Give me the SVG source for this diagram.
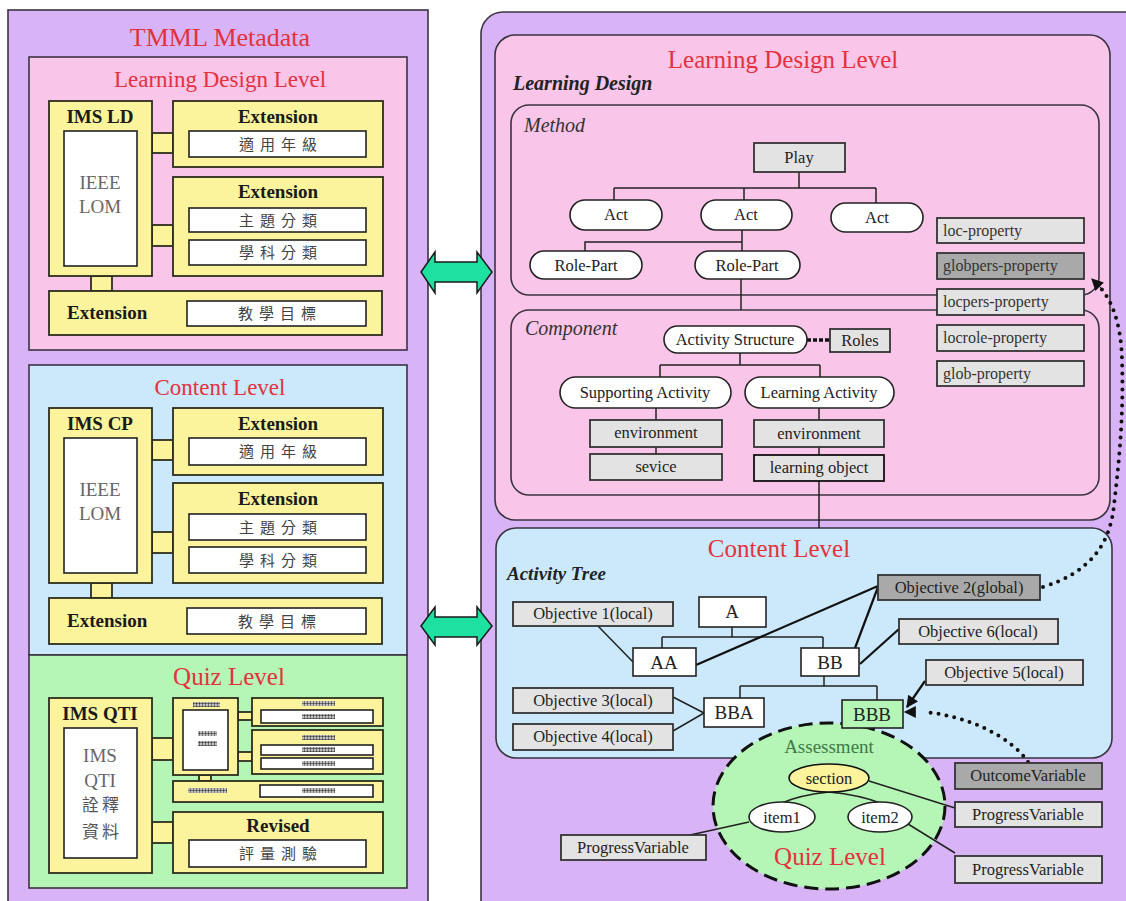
<svg xmlns="http://www.w3.org/2000/svg" width="1126" height="901" viewBox="0 0 1126 901">
  <defs>
    <style>
      .pur { fill:#d8b4f6; stroke:#3a3340; stroke-width:1.6; }
      .pink { fill:#f9c5e8; stroke:#3a3340; stroke-width:1.6; }
      .blue { fill:#cbe9fb; stroke:#3a3340; stroke-width:1.6; }
      .green { fill:#b5f5b5; stroke:#3a3340; stroke-width:1.6; }
      .yel { fill:#fbf49c; stroke:#2d2d1d; stroke-width:1.8; }
      .wht { fill:#ffffff; stroke:#222; stroke-width:1.6; }
      .gray { fill:#e3e3e3; stroke:#333; stroke-width:1.8; }
      .dgray { fill:#a9a9a9; stroke:#333; stroke-width:1.8; }
      .hatch { fill:url(#dots); }
      .ttl { font-family:"Liberation Serif",serif; fill:#e2323e; text-anchor:middle; }
      .lbl { font-family:"Liberation Serif",serif; font-size:16.5px; fill:#222; text-anchor:middle; }
      .glbl { font-family:"Liberation Serif",serif; font-size:16px; fill:#333; }
      .bld { font-family:"Liberation Serif",serif; font-size:19px; font-weight:bold; fill:#1a1a1a; text-anchor:middle; }
      .lom { font-family:"Liberation Serif",serif; font-size:19px; fill:#666; text-anchor:middle; }
      .cjk { font-family:"Liberation Serif","Noto Sans CJK TC",serif; font-size:15px; fill:#444; letter-spacing:6px; text-anchor:middle; }
      .ital { font-family:"Liberation Serif",serif; font-style:italic; font-size:20px; fill:#333; }
      .bi { font-family:"Liberation Serif",serif; font-style:italic; font-weight:bold; fill:#222; }
      .ln { fill:none; stroke:#222; stroke-width:1.5; }
      .thk { fill:none; stroke:#111; stroke-width:2.2; }
      .dot { fill:none; stroke:#111; stroke-width:4; stroke-linecap:round; stroke-dasharray:0 8; }
      .arrow2 { fill:#1ee0a0; stroke:#1a1a1a; stroke-width:1.5; stroke-linejoin:miter; }
    </style>
    <pattern id="dots" width="3" height="3" patternUnits="userSpaceOnUse">
      <rect width="3" height="3" fill="#e8e8e8"/>
      <circle cx="1.5" cy="1.5" r="1.2" fill="#444"/>
    </pattern>
    <marker id="tri" viewBox="0 0 10 10" refX="9" refY="5" markerWidth="14" markerHeight="12" markerUnits="userSpaceOnUse" orient="auto">
      <path d="M0,0 L10,5 L0,10 Z" fill="#111"/>
    </marker>
  </defs>

  <rect width="1126" height="901" fill="#ffffff"/>

  <!-- ===== Left panel: TMML Metadata ===== -->
  <g id="tmml-metadata">
    <rect class="pur" x="8" y="10" width="420" height="905"/>
    <text class="ttl" x="220" y="46" font-size="26">TMML Metadata</text>
  </g>

  <!-- Learning Design Level (metadata) -->
  <g id="meta-ld">
    <rect class="pink" x="29" y="57" width="378" height="293"/>
    <text class="ttl" x="220" y="87" font-size="23">Learning Design Level</text>
    <rect class="yel" x="152" y="133" width="21" height="20"/>
    <rect class="yel" x="152" y="225" width="21" height="21"/>
    <rect class="yel" x="91" y="276" width="21" height="15"/>
    <rect class="yel" x="49" y="101" width="103" height="175"/>
    <text class="bld" x="100" y="123">IMS LD</text>
    <rect class="wht" x="64" y="131" width="73" height="135"/>
    <text class="lom" x="100" y="189">IEEE</text>
    <text class="lom" x="100" y="213">LOM</text>
    <rect class="yel" x="173" y="101" width="210" height="66"/>
    <text class="bld" x="278" y="123">Extension</text>
    <rect class="wht" x="189" y="131" width="177" height="26"/>
    <text class="cjk" x="281" y="150">適用年級</text>
    <rect class="yel" x="173" y="177" width="210" height="99"/>
    <text class="bld" x="278" y="198">Extension</text>
    <rect class="wht" x="189" y="208" width="177" height="24"/>
    <text class="cjk" x="281" y="226">主題分類</text>
    <rect class="wht" x="189" y="240" width="177" height="25"/>
    <text class="cjk" x="281" y="258">學科分類</text>
    <rect class="yel" x="49" y="291" width="333" height="44"/>
    <text class="bld" x="67" y="319" style="text-anchor:start">Extension</text>
    <rect class="wht" x="187" y="301" width="179" height="25"/>
    <text class="cjk" x="280" y="319">教學目標</text>
  </g>

  <!-- Content Level (metadata) -->
  <g id="meta-cp">
    <rect class="blue" x="29" y="365" width="378" height="290"/>
    <text class="ttl" x="220" y="395" font-size="23">Content Level</text>
    <rect class="yel" x="152" y="440" width="21" height="20"/>
    <rect class="yel" x="152" y="532" width="21" height="21"/>
    <rect class="yel" x="91" y="583" width="21" height="15"/>
    <rect class="yel" x="49" y="408" width="103" height="175"/>
    <text class="bld" x="100" y="430">IMS CP</text>
    <rect class="wht" x="64" y="438" width="73" height="135"/>
    <text class="lom" x="100" y="496">IEEE</text>
    <text class="lom" x="100" y="520">LOM</text>
    <rect class="yel" x="173" y="408" width="210" height="67"/>
    <text class="bld" x="278" y="430">Extension</text>
    <rect class="wht" x="189" y="438" width="177" height="27"/>
    <text class="cjk" x="281" y="457">適用年級</text>
    <rect class="yel" x="173" y="483" width="210" height="100"/>
    <text class="bld" x="278" y="505">Extension</text>
    <rect class="wht" x="189" y="514" width="177" height="26"/>
    <text class="cjk" x="281" y="533">主題分類</text>
    <rect class="wht" x="189" y="547" width="177" height="26"/>
    <text class="cjk" x="281" y="566">學科分類</text>
    <rect class="yel" x="49" y="598" width="333" height="46"/>
    <text class="bld" x="67" y="627" style="text-anchor:start">Extension</text>
    <rect class="wht" x="187" y="608" width="179" height="26"/>
    <text class="cjk" x="280" y="627">教學目標</text>
  </g>

  <!-- Quiz Level (metadata) -->
  <g id="meta-qti">
    <rect class="green" x="29" y="655" width="378" height="233"/>
    <text class="ttl" x="229" y="685" font-size="25">Quiz Level</text>
    <rect class="yel" x="152" y="738" width="21" height="22"/>
    <rect class="yel" x="152" y="822" width="21" height="21"/>
    <rect class="yel" x="238" y="712" width="14" height="8"/>
    <rect class="yel" x="238" y="752" width="14" height="9"/>
    <rect class="yel" x="199" y="775" width="12" height="6"/>
    <rect class="yel" x="49" y="698" width="103" height="175"/>
    <text class="bld" x="100" y="720">IMS QTI</text>
    <rect class="wht" x="64" y="728" width="73" height="130"/>
    <text class="lom" x="100" y="762">IMS</text>
    <text class="lom" x="100" y="787">QTI</text>
    <text class="cjk" x="102" y="811" style="font-size:17px;letter-spacing:3px;fill:#555">詮釋</text>
    <text class="cjk" x="102" y="838" style="font-size:17px;letter-spacing:3px;fill:#555">資料</text>
    <rect class="yel" x="173" y="698" width="65" height="77"/>
    <rect class="hatch" x="193" y="702" width="27" height="5"/>
    <rect class="wht" x="183" y="710" width="45" height="60"/>
    <rect class="hatch" x="198" y="731" width="19" height="5"/>
    <rect class="hatch" x="198" y="741" width="19" height="5"/>
    <rect class="yel" x="252" y="698" width="131" height="28"/>
    <rect class="hatch" x="302" y="701" width="33" height="5"/>
    <rect class="wht" x="261" y="710" width="112" height="13"/>
    <rect class="hatch" x="302" y="714" width="33" height="5"/>
    <rect class="yel" x="252" y="730" width="131" height="44"/>
    <rect class="hatch" x="302" y="735" width="33" height="5"/>
    <rect class="wht" x="261" y="745" width="112" height="10"/>
    <rect class="hatch" x="302" y="747" width="33" height="5"/>
    <rect class="wht" x="261" y="758" width="112" height="11"/>
    <rect class="hatch" x="302" y="761" width="33" height="5"/>
    <rect class="yel" x="173" y="781" width="210" height="21"/>
    <rect class="hatch" x="188" y="788" width="39" height="5"/>
    <rect class="wht" x="260" y="785" width="113" height="12"/>
    <rect class="hatch" x="302" y="788" width="33" height="5"/>
    <rect class="yel" x="173" y="812" width="210" height="61"/>
    <text class="bld" x="278" y="832">Revised</text>
    <rect class="wht" x="189" y="840" width="177" height="27"/>
    <text class="cjk" x="281" y="859">評量測驗</text>
  </g>

  <!-- ===== Right panel ===== -->
  <g id="model-panel">
    <rect class="pur" x="481" y="12" width="670" height="910" rx="22"/>
  </g>

  <!-- Mapping arrows between the panels -->
  <g id="mapping-arrows">
    <polygon class="arrow2" points="421,272 435,252 435,262 477,262 477,252 492,272 477,293 477,282 435,282 435,293"/>
    <polygon class="arrow2" points="421,626 435,607 435,617 477,617 477,607 492,626 477,645 477,637 435,637 435,645"/>
  </g>

  <!-- Learning Design Level -->
  <g id="learning-design-level">
    <rect class="pink" x="495" y="35" width="615" height="485" rx="20"/>
    <text class="ttl" x="783" y="68" font-size="25">Learning Design Level</text>
    <text class="bi" x="513" y="90" font-size="20">Learning Design</text>
  </g>

  <g id="method">
    <rect class="pink" x="511" y="105" width="588" height="190" rx="18"/>
    <text class="ital" x="524" y="132">Method</text>
  </g>

  <g id="component">
    <rect class="pink" x="511" y="310" width="588" height="185" rx="18"/>
    <text class="ital" x="525" y="335">Component</text>
  </g>

  <!-- Content Level -->
  <g id="content-level">
    <rect class="blue" x="496" y="528" width="616" height="230" rx="20"/>
    <text class="ttl" x="779" y="557" font-size="25">Content Level</text>
    <text class="bi" x="507" y="580" font-size="19">Activity Tree</text>
  </g>

  <!-- Assessment -->
  <g id="assessment">
    <ellipse cx="829" cy="806" rx="116" ry="83" fill="#b5f5b5" stroke="#111" stroke-width="3" stroke-dasharray="14 7"/>
    <text x="829" y="753" font-family="Liberation Serif, serif" font-size="19" fill="#3f7a47" text-anchor="middle">Assessment</text>
    <text class="ttl" x="830" y="865" font-size="25">Quiz Level</text>
  </g>

  <!-- Connectors -->
  <g id="connectors">
    <!-- method tree -->
    <path class="ln" d="M799,172 V188 M614,188 H876 M614,188 V200 M744,188 V200 M876,188 V203"/>
    <path class="ln" d="M742,230 V251 M742,242 H585 V251"/>
    <path class="ln" d="M741,279 V310"/>
    <!-- component tree -->
    <path class="ln" d="M740,353 V365 M660,365 H820 M660,365 V377 M820,365 V377"/>
    <path class="ln" d="M656,408 V420 M656,447 V454 M819,408 V420 M819,447 V455 M819,481 V528"/>
    <path d="M807,340 H829" fill="none" stroke="#111" stroke-width="3.5" stroke-dasharray="4 2"/>
    <!-- activity tree -->
    <path class="ln" d="M732,627 V637 M662,637 H823 M662,637 V648 M823,637 V648"/>
    <path class="ln" d="M824,676 V686 M740,686 H877 M740,686 V698 M877,686 V700"/>
    <path class="ln" d="M598,626 L633,662"/>
    <path class="ln" d="M673,697 L704,713 M673,731 L704,713"/>
    <path class="thk" d="M696,665 L878,586"/>
    <path class="thk" d="M855,648 L878,587"/>
    <path class="thk" d="M860,664 L899,629"/>
    <path class="thk" d="M925,681 L907,707" marker-end="url(#tri)"/>
    <!-- assessment -->
    <path class="ln" d="M829,792 Q800,795 782,803 M829,792 Q860,795 880,803"/>
    <path class="ln" d="M869,781 L955,808"/>
    <path class="ln" d="M908,824 L955,853"/>
    <path class="ln" d="M749,822 L690,835"/>
    <!-- dotted mapping links -->
    <path class="dot" d="M1043,587 C1090,572 1110,545 1114,505 C1118,470 1124,420 1122,360 C1121,320 1110,296 1096,283"/>
    <path d="M1102,289 L1092,279" stroke="#111" stroke-width="1" marker-end="url(#tri)"/>
    <path class="dot" d="M1028,762 C1012,738 970,716 924,712"/>
    <path d="M916,712 L905,712" stroke="#111" stroke-width="1" marker-end="url(#tri)"/>
  </g>

  <!-- Method nodes -->
  <g id="play"><rect class="gray" x="754" y="143" width="91" height="29"/><text class="lbl" x="799" y="163">Play</text></g>
  <g id="act-1"><rect class="wht" x="570" y="200" width="92" height="30" rx="15"/><text class="lbl" x="616" y="220">Act</text></g>
  <g id="act-2"><rect class="wht" x="701" y="200" width="91" height="30" rx="15"/><text class="lbl" x="746" y="220">Act</text></g>
  <g id="act-3"><rect class="wht" x="831" y="203" width="92" height="29" rx="14.5"/><text class="lbl" x="877" y="223">Act</text></g>
  <g id="role-part-1"><rect class="wht" x="530" y="251" width="112" height="28" rx="14"/><text class="lbl" x="586" y="271">Role-Part</text></g>
  <g id="role-part-2"><rect class="wht" x="695" y="251" width="105" height="28" rx="14"/><text class="lbl" x="747" y="271">Role-Part</text></g>

  <!-- Property nodes -->
  <g id="loc-property"><rect class="gray" x="937" y="218" width="147" height="25"/><text class="glbl" x="943" y="236">loc-property</text></g>
  <g id="globpers-property"><rect class="dgray" x="937" y="253" width="147" height="26"/><text class="glbl" x="943" y="271">globpers-property</text></g>
  <g id="locpers-property"><rect class="gray" x="937" y="289" width="147" height="26"/><text class="glbl" x="943" y="307">locpers-property</text></g>
  <g id="locrole-property"><rect class="gray" x="937" y="325" width="147" height="26"/><text class="glbl" x="943" y="343">locrole-property</text></g>
  <g id="glob-property"><rect class="gray" x="937" y="361" width="147" height="25"/><text class="glbl" x="943" y="379">glob-property</text></g>

  <!-- Component nodes -->
  <g id="activity-structure"><rect class="wht" x="664" y="326" width="143" height="27" rx="13.5"/><text class="lbl" x="735" y="345">Activity Structure</text></g>
  <g id="roles"><rect class="gray" x="830" y="329" width="60" height="23"/><text class="lbl" x="860" y="346">Roles</text></g>
  <g id="supporting-activity"><rect class="wht" x="560" y="377" width="171" height="31" rx="15.5"/><text class="lbl" x="645" y="398">Supporting Activity</text></g>
  <g id="learning-activity"><rect class="wht" x="745" y="377" width="149" height="31" rx="15.5"/><text class="lbl" x="819" y="398">Learning Activity</text></g>
  <g id="environment-1"><rect class="gray" x="590" y="420" width="132" height="27"/><text class="lbl" x="656" y="438">environment</text></g>
  <g id="sevice"><rect class="gray" x="590" y="454" width="132" height="26"/><text class="lbl" x="656" y="472">sevice</text></g>
  <g id="environment-2"><rect class="gray" x="754" y="420" width="130" height="27"/><text class="lbl" x="819" y="439">environment</text></g>
  <g id="learning-object"><rect class="gray" x="754" y="455" width="130" height="26" style="stroke:#111"/><text class="lbl" x="819" y="473">learning object</text></g>

  <!-- Assessment nodes -->
  <g id="section"><ellipse cx="829" cy="778" rx="40" ry="14" fill="#fbf49c" stroke="#111" stroke-width="1.6"/><text class="lbl" x="829" y="784">section</text></g>
  <g id="item1"><ellipse cx="782" cy="817" rx="33" ry="15" class="wht"/><text class="lbl" x="782" y="823">item1</text></g>
  <g id="item2"><ellipse cx="880" cy="817" rx="32" ry="15" class="wht"/><text class="lbl" x="880" y="823">item2</text></g>

  <!-- Activity tree nodes -->
  <g id="objective-2"><rect class="dgray" x="878" y="575" width="162" height="25"/><text class="lbl" x="959" y="593">Objective 2(global)</text></g>
  <g id="node-a"><rect class="wht" x="699" y="597" width="67" height="30"/><text class="lbl" x="732" y="618" style="font-size:19px">A</text></g>
  <g id="objective-1"><rect class="gray" x="513" y="602" width="160" height="24"/><text class="lbl" x="593" y="619">Objective 1(local)</text></g>
  <g id="node-aa"><rect class="wht" x="633" y="648" width="63" height="28"/><text class="lbl" x="664" y="669" style="font-size:19px">AA</text></g>
  <g id="node-bb"><rect class="wht" x="801" y="648" width="58" height="28"/><text class="lbl" x="830" y="669" style="font-size:19px">BB</text></g>
  <g id="objective-6"><rect class="gray" x="899" y="619" width="159" height="25"/><text class="lbl" x="978" y="637">Objective 6(local)</text></g>
  <g id="objective-5"><rect class="gray" x="926" y="660" width="157" height="25"/><text class="lbl" x="1004" y="678">Objective 5(local)</text></g>
  <g id="objective-3"><rect class="gray" x="513" y="688" width="160" height="25"/><text class="lbl" x="593" y="706">Objective 3(local)</text></g>
  <g id="objective-4"><rect class="gray" x="513" y="724" width="160" height="26"/><text class="lbl" x="593" y="742">Objective 4(local)</text></g>
  <g id="node-bba"><rect class="wht" x="704" y="698" width="60" height="29"/><text class="lbl" x="734" y="719" style="font-size:19px">BBA</text></g>
  <g id="node-bbb"><rect x="842" y="700" width="61" height="28" fill="#b5f5b5" stroke="#222" stroke-width="1.6"/><text class="lbl" x="872" y="721" style="font-size:19px">BBB</text></g>

  <!-- Variables -->
  <g id="outcome-variable"><rect class="dgray" x="955" y="763" width="147" height="26"/><text class="lbl" x="1028" y="781">OutcomeVariable</text></g>
  <g id="progress-variable-1"><rect class="gray" x="955" y="802" width="147" height="25"/><text class="lbl" x="1028" y="820">ProgressVariable</text></g>
  <g id="progress-variable-2"><rect class="gray" x="955" y="856" width="147" height="27"/><text class="lbl" x="1028" y="875">ProgressVariable</text></g>
  <g id="progress-variable-3"><rect class="gray" x="561" y="835" width="145" height="25"/><text class="lbl" x="633" y="853">ProgressVariable</text></g>
</svg>
